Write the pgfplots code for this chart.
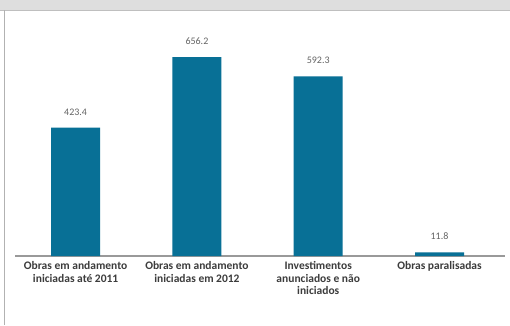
\documentclass[border=0pt]{standalone}
\usepackage{pgfplots}
\pgfplotsset{compat=1.18}
\usepackage{fontspec}
\setmainfont{Carlito}
\definecolor{barblue}{RGB}{8,112,150}
\definecolor{bandgray}{RGB}{222,222,222}
\definecolor{labgray}{RGB}{60,60,60}
\definecolor{valgray}{RGB}{100,100,100}
\begin{document}
\begin{tikzpicture}[x=1pt,y=1pt]
\path[use as bounding box] (0,0) rectangle (510,325);
\fill[white] (0,0) rectangle (510,325);
\fill[bandgray] (0,315) rectangle (510,325);
\draw[color=black!25,line width=0.8pt] (0,315) -- (510,315);
\draw[color=black!30,line width=1pt] (4.5,0) -- (4.5,315);
\begin{axis}[
  at={(15pt,69pt)}, anchor=south west,
  scale only axis,
  width=490pt, height=242.6pt,
  xmin=-0.5, xmax=3.54, ymin=0, ymax=800,
  axis y line=none,
  axis x line*=bottom,
  x axis line style={color=black!40, line width=1.3pt, -},
  xtick=data,
  xticklabels={{Obras em andamento\\iniciadas até 2011},{Obras em andamento\\iniciadas em 2012},{Investimentos\\anunciados e não\\iniciados},{Obras paralisadas}},
  xticklabel style={align=center, font=\fontsize{11.5}{12.5}\selectfont\bfseries, text=labgray, yshift=-2pt},
  major tick length=0pt,
  ybar, bar width=49pt,
  nodes near coords,
  nodes near coords style={font=\fontsize{10}{12}\selectfont, text=valgray, yshift=9pt},
  /pgf/number format/fixed, /pgf/number format/fixed zerofill, /pgf/number format/precision=1,
  /pgf/number format/assume math mode=true,
]
\addplot[fill=barblue, draw=none] coordinates {(0,423.4) (1,656.2) (2,592.3) (3,11.8)};
\end{axis}
\end{tikzpicture}
\end{document}
